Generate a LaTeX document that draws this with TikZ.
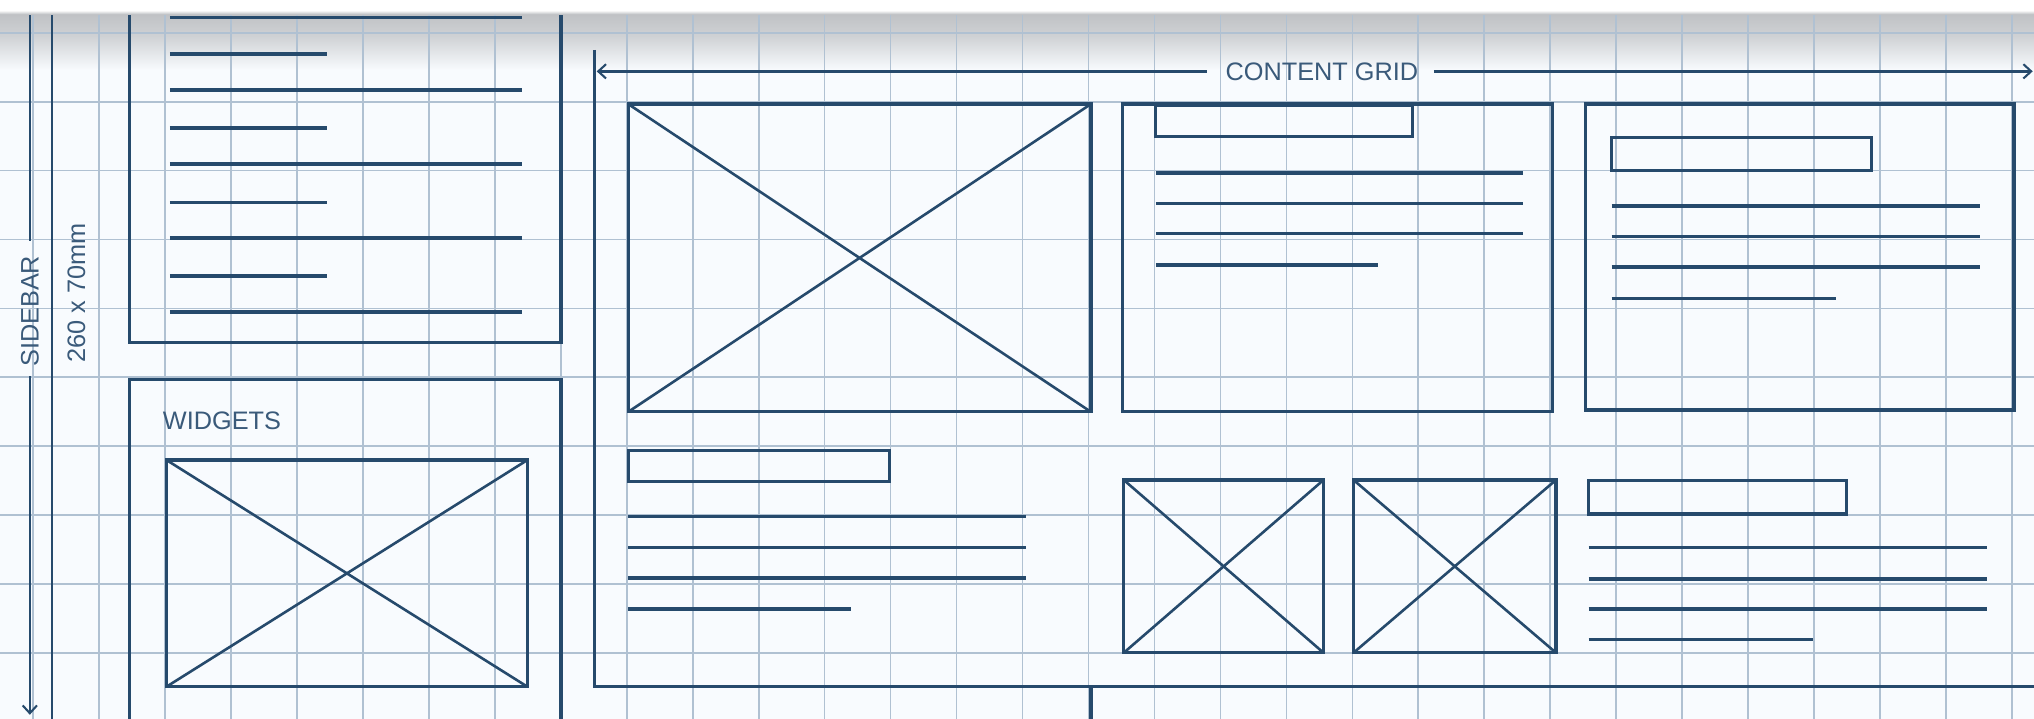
\documentclass[tikz,border=0pt]{standalone}
\usepackage{fontspec}
\setmainfont{Liberation Sans}
\usetikzlibrary{arrows.meta}
\definecolor{ink}{RGB}{38,74,108}
\definecolor{gridc}{RGB}{176,193,210}
\definecolor{paper}{RGB}{248,251,254}
\definecolor{txt}{RGB}{58,90,122}
\definecolor{band}{RGB}{190,192,195}
\tikzset{barb/.tip={Straight Barb[length=6pt,width=11pt,line width=1.6pt]}}
\begin{document}
\begin{tikzpicture}[x=1pt,y=-1pt,
  box/.style={draw=ink,line width=2.5pt},
  tline/.style={draw=ink,line width=2.8pt},
  diag/.style={draw=ink,line width=2.0pt},
  gridline/.style={draw=gridc,line width=1.3pt},
  dimline/.style={draw=ink,line width=2.0pt},
  lbl/.style={text=txt,font=\fontsize{19.5}{22}\selectfont,inner sep=0pt}]
\useasboundingbox (0,0) rectangle (1568,554);
\clip (0,0) rectangle (1568,554);
% paper
\fill[paper] (0,0) rectangle (1568,554);
\shade[top color=band, bottom color=band!70!paper] (0,9) rectangle (1568,28);
\shade[top color=band!70!paper, bottom color=paper] (0,28) rectangle (1568,54);
% grid
\foreach \k in {0,...,30} \draw[gridline] ({25.5+50.85*\k},9) -- ({25.5+50.85*\k},554);
\foreach \k in {0,...,10} \draw[gridline] (0,{25.3+53.1*\k}) -- (1568,{25.3+53.1*\k});

% ---------- sidebar ----------
\coordinate (sbTop) at (23,8);
\coordinate (sbGapTop) at (23,186);
\coordinate (sbGapBot) at (23,290);
\coordinate (sbBot) at (23,551);
\node[lbl,rotate=90] (sidebar) at (23,240) {SIDEBAR};
\draw[dimline] (sbTop) -- (sbGapTop);
\draw[dimline,-{barb}] (sbGapBot) -- (sbBot);
\draw[dimline] (40,8) -- (40,560);
\node[lbl,rotate=90] (size) at (59,226) {260 x 70mm};

% sidebar top box
\draw[box] (100,6) -- (100,264) -- (432.5,264) -- (432.5,6);
\foreach \y in {13.4,69.4,126.4,183.7,240.3} \draw[tline] (131,\y) -- (402.7,\y);
\foreach \y in {41.6,98.5,156,212.8} \draw[tline] (131,\y) -- (252,\y);

% widgets box
\draw[box] (100,560) -- (100,292.4) -- (432.5,292.4) -- (432.5,560);
\node[lbl,anchor=west] (widgets) at (125.4,324) {WIDGETS};
\draw[box] (128.3,354.6) rectangle (406.6,529.4);
\draw[diag] (128.3,354.6) -- (406.6,529.4) (128.3,529.4) -- (406.6,354.6);

% ---------- content grid ----------
\draw[box] (458.5,38.5) -- (458.5,529) -- (1572,529);
\draw[box] (841,529) -- (841,560);
\coordinate (cgL) at (460,55);
\coordinate (cgR) at (1567,55);
\node[lbl] (cg) at (1019,55) {CONTENT GRID};
\draw[dimline,{barb}-] (cgL) -- ([xshift=-14pt]cg.west);
\draw[dimline,-{barb}] ([xshift=12pt]cg.east) -- (cgR);

% big image
\draw[box] (484.3,80.2) rectangle (841,317.5);
\draw[diag] (484.3,80.2) -- (841,317.5) (484.3,317.5) -- (841,80.2);

% card 2
\draw[box] (865.5,80.2) rectangle (1197,317.5);
\draw[box] (891,81.5) rectangle (1089,105.4);
\foreach \y in {133.6,156.8,180} \draw[tline] (891,\y) -- (1173.7,\y);
\draw[tline] (891,204.5) -- (1062,204.5);

% card 3
\draw[box] (1222,80.2) rectangle (1552.5,316);
\draw[box] (1242.3,106) rectangle (1442.7,131.6);
\foreach \y in {158.8,182.3,206} \draw[tline] (1242.3,\y) -- (1526.5,\y);
\draw[tline] (1242.3,230) -- (1415,230);

% text block under big image
\draw[box] (484.3,347) rectangle (685.6,371.3);
\foreach \y in {398.3,422,445.8} \draw[tline] (484.3,\y) -- (791.3,\y);
\draw[tline] (484.3,469.7) -- (656,469.7);

% small images
\draw[box] (866.3,370) rectangle (1020.3,503.2);
\draw[diag] (866.3,370) -- (1020.3,503.2) (866.3,503.2) -- (1020.3,370);
\draw[box] (1043.4,370) rectangle (1199.5,503.2);
\draw[diag] (1043.4,370) -- (1199.5,503.2) (1043.4,503.2) -- (1199.5,370);

% right text block
\draw[box] (1224.6,370.5) rectangle (1423.5,396.3);
\foreach \y in {422.2,446.4,469.7} \draw[tline] (1224.6,\y) -- (1532,\y);
\draw[tline] (1224.6,492.9) -- (1397.3,492.9);

% top paper edge
\fill[white] (0,0) rectangle (1568,8);
\shade[top color=white, bottom color=band] (0,8) rectangle (1568,11);
\end{tikzpicture}
\end{document}
